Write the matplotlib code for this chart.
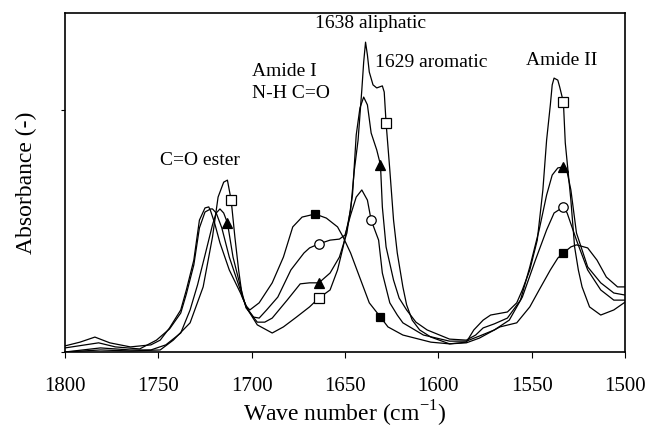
import numpy as np
import matplotlib
matplotlib.use("Agg")
import matplotlib.pyplot as plt

plt.rcParams['font.family'] = ['Liberation Serif', 'DejaVu Serif']
plt.rcParams['mathtext.fontset'] = 'custom'
plt.rcParams['mathtext.rm'] = 'Liberation Serif'

# Series A (open square)
wn_a = [1800, 1781, 1765, 1749, 1742, 1733, 1726, 1721, 1718, 1715, 1713, 1711, 1709, 1707, 1705,
        1702, 1697, 1692, 1689, 1683, 1676, 1669, 1664, 1658, 1654, 1651, 1647, 1645, 1643, 1641,
        1640, 1639, 1638, 1637, 1635, 1633, 1630, 1629, 1628, 1626, 1624, 1622, 1619, 1617, 1614,
        1610, 1604, 1594, 1585, 1581, 1576, 1572, 1563, 1558, 1555, 1551, 1547, 1544, 1542, 1540,
        1539, 1538, 1536, 1535, 1533, 1532, 1529, 1527, 1525, 1523, 1519, 1513, 1506, 1500]
ab_a = [0.000, 0.006, 0.003, 0.006, 0.035, 0.086, 0.192, 0.339, 0.457, 0.501, 0.507, 0.448, 0.339, 0.242, 0.162,
        0.124, 0.080, 0.065, 0.056, 0.074, 0.103, 0.133, 0.159, 0.183, 0.242, 0.310, 0.419, 0.537, 0.625, 0.773,
        0.855, 0.914, 0.876, 0.826, 0.788, 0.779, 0.785, 0.767, 0.676, 0.537, 0.389, 0.292, 0.192, 0.139, 0.094,
        0.065, 0.044, 0.024, 0.029, 0.065, 0.094, 0.109, 0.118, 0.145, 0.183, 0.242, 0.330, 0.478, 0.625, 0.729,
        0.788, 0.808, 0.802, 0.782, 0.737, 0.617, 0.448, 0.310, 0.242, 0.192, 0.133, 0.109, 0.124, 0.147]
mk_a = [1711, 1664, 1628, 1533]

# Series B (filled triangle)
wn_b = [1800, 1781, 1765, 1754, 1746, 1738, 1733, 1729, 1725, 1721, 1719, 1717, 1715, 1713, 1710,
        1706, 1703, 1697, 1693, 1689, 1681, 1674, 1669, 1664, 1658, 1653, 1649, 1646, 1644, 1642,
        1640, 1638, 1636, 1633, 1631, 1630, 1628, 1624, 1621, 1617, 1612, 1606, 1594, 1585, 1580,
        1576, 1570, 1563, 1556, 1551, 1546, 1542, 1539, 1536, 1533, 1531, 1529, 1526, 1520, 1513,
        1506, 1500]
ab_b = [0.000, 0.012, 0.006, 0.006, 0.021, 0.056, 0.124, 0.198, 0.286, 0.375, 0.410, 0.422, 0.410, 0.381, 0.280,
        0.192, 0.130, 0.088, 0.088, 0.100, 0.153, 0.201, 0.204, 0.204, 0.233, 0.280, 0.351, 0.463, 0.640, 0.720,
        0.752, 0.729, 0.646, 0.596, 0.552, 0.428, 0.310, 0.212, 0.159, 0.124, 0.088, 0.065, 0.038, 0.035, 0.050,
        0.071, 0.083, 0.100, 0.153, 0.251, 0.360, 0.463, 0.522, 0.543, 0.546, 0.531, 0.478, 0.351, 0.251, 0.204,
        0.174, 0.168]
mk_b = [1713, 1664, 1631, 1533]

# Series C (open circle)
wn_c = [1800, 1782, 1773, 1760, 1751, 1744, 1738, 1735, 1731, 1728, 1725, 1722, 1721, 1719, 1716,
        1712, 1707, 1703, 1699, 1696, 1692, 1686, 1679, 1672, 1669, 1664, 1658, 1653, 1650, 1647,
        1644, 1641, 1638, 1636, 1632, 1630, 1626, 1622, 1619, 1608, 1594, 1585, 1578, 1570, 1562,
        1555, 1548, 1542, 1538, 1533, 1531, 1526, 1520, 1513, 1506, 1500]
ab_c = [0.012, 0.027, 0.015, 0.009, 0.035, 0.068, 0.115, 0.171, 0.257, 0.366, 0.413, 0.422, 0.422, 0.410, 0.366,
        0.280, 0.198, 0.133, 0.103, 0.100, 0.124, 0.162, 0.242, 0.292, 0.307, 0.319, 0.330, 0.333, 0.345, 0.404,
        0.457, 0.478, 0.448, 0.389, 0.330, 0.233, 0.145, 0.109, 0.086, 0.050, 0.032, 0.032, 0.047, 0.065, 0.094,
        0.162, 0.271, 0.360, 0.410, 0.428, 0.410, 0.330, 0.242, 0.183, 0.153, 0.153]
mk_c = [1664, 1636, 1533]

# Series D (filled square)
wn_d = [1800, 1792, 1784, 1776, 1765, 1754, 1749, 1744, 1738, 1735, 1731, 1728, 1725, 1723, 1722,
        1720, 1717, 1712, 1706, 1703, 1701, 1696, 1689, 1683, 1678, 1673, 1666, 1660, 1654, 1651,
        1647, 1643, 1637, 1631, 1627, 1619, 1604, 1594, 1585, 1578, 1567, 1558, 1551, 1546, 1540,
        1536, 1533, 1529, 1526, 1520, 1515, 1510, 1504, 1500]
ab_d = [0.018, 0.029, 0.044, 0.027, 0.015, 0.021, 0.035, 0.071, 0.124, 0.183, 0.271, 0.389, 0.425, 0.428, 0.416,
        0.383, 0.322, 0.242, 0.174, 0.136, 0.124, 0.145, 0.204, 0.280, 0.369, 0.398, 0.407, 0.395, 0.369, 0.339,
        0.292, 0.233, 0.145, 0.103, 0.074, 0.050, 0.029, 0.024, 0.027, 0.041, 0.074, 0.086, 0.133, 0.183, 0.242,
        0.277, 0.292, 0.310, 0.316, 0.307, 0.271, 0.221, 0.192, 0.192]
mk_d = [1666, 1631, 1533]

x_ticks = [1800, 1750, 1700, 1650, 1600, 1550, 1500]
x_label = "Wave number (cm$^{-1}$)"
y_label = "Absorbance (-)"

annotations = [
    ("C=O ester", 1727.7, 0.566, "center"),
    ("Amide I", 1700.0, 0.826, "left"),
    ("N-H C=O", 1700.0, 0.764, "left"),
    ("1638 aliphatic", 1666.0, 0.968, "left"),
    ("1629 aromatic", 1634.0, 0.853, "left"),
    ("Amide II", 1533.8, 0.861, "center"),
]

fig = plt.figure(figsize=(6.47, 4.28), dpi=100)
ax = fig.add_axes([0.1005, 0.1776, 0.8655, 0.792])

series = [
    (wn_a, ab_a, mk_a, dict(marker='s', mfc='white', mec='black', ms=6.8, mew=0.9)),
    (wn_b, ab_b, mk_b, dict(marker='^', mfc='black', mec='black', ms=6.8, mew=0.9)),
    (wn_c, ab_c, mk_c, dict(marker='o', mfc='white', mec='black', ms=6.8, mew=0.9)),
    (wn_d, ab_d, mk_d, dict(marker='s', mfc='black', mec='black', ms=6.2, mew=0.9)),
]
for wn, ab, mk, style in series:
    ax.plot(wn, ab, color='black', lw=0.9, zorder=2, solid_joinstyle='round')
    my = np.interp(mk, wn[::-1], ab[::-1])
    ax.plot(mk, my, linestyle='none', zorder=3, **style)

for text, x, y, ha in annotations:
    ax.text(x, y, text, ha=ha, va='center', fontsize=14)

ax.set_xlim(1800, 1500)
ax.set_ylim(0, 1.0)
ax.set_xticks(x_ticks)
ax.set_xticklabels([str(t) for t in x_ticks], fontsize=15)
ax.set_yticks([0.0, 0.714])
ax.set_yticklabels([])
ax.tick_params(axis='x', direction='out', length=4, width=0.8, pad=14)
ax.tick_params(axis='y', direction='out', length=3, width=0.8)
for s in ax.spines.values():
    s.set_linewidth(1.2)
ax.set_xlabel(x_label, fontsize=17, labelpad=2)
ax.set_ylabel(y_label, fontsize=17, labelpad=14)

fig.savefig("out.png", dpi=100)
